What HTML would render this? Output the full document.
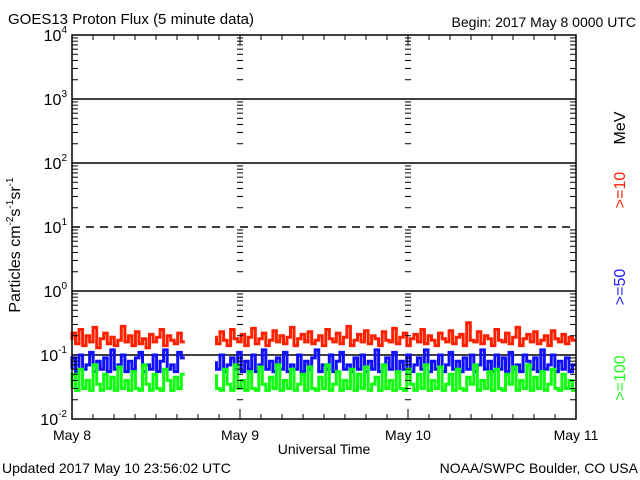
<!DOCTYPE html>
<html><head><meta charset="utf-8"><style>
html,body{margin:0;padding:0;background:#fff;}
svg{display:block;font-family:"Liberation Sans",sans-serif;}
</style></head><body>
<svg id="chart" width="640" height="480" viewBox="0 0 640 480">
<text x="8" y="24" font-size="15">GOES13 Proton Flux (5 minute data)</text>
<text x="636" y="27" font-size="14" text-anchor="end">Begin: 2017 May 8 0000 UTC</text>
<text x="2" y="473" font-size="14">Updated 2017 May 10 23:56:02 UTC</text>
<text x="638" y="473" font-size="14" text-anchor="end">NOAA/SWPC Boulder, CO USA</text>
<text x="324" y="454" font-size="14" text-anchor="middle">Universal Time</text>
<text transform="translate(20,245) rotate(-90)" font-size="16" text-anchor="middle">Particles cm<tspan font-size="10" dy="-7">-2</tspan><tspan dy="7">s</tspan><tspan font-size="10" dy="-7">-1</tspan><tspan dy="7">sr</tspan><tspan font-size="10" dy="-7">-1</tspan></text>
<text transform="translate(625,128) rotate(-90)" font-size="16" text-anchor="middle">MeV</text>
<text transform="translate(625,190) rotate(-90)" font-size="16" text-anchor="middle" fill="#ff2000">&gt;=10</text>
<text transform="translate(625,287) rotate(-90)" font-size="16" text-anchor="middle" fill="#2020ff">&gt;=50</text>
<text transform="translate(625,378) rotate(-90)" font-size="16" text-anchor="middle" fill="#20ff20">&gt;=100</text>
<g id="grid"></g><g id="series"></g><g id="axes"></g>
</svg>
<script>
const dayLabels = ["May 8","May 9","May 10","May 11"];
const decadeExps = [-2,-1,0,1,2,3,4];
const levelLines = [1000,100,1,0.1];
const dashedLevels = [10];
const red = [.17,.22,.15,.25,.14,.2,.16,.27,.13,.18,.22,.15,.19,.14,.17,.28,.16,.2,.14,.23,.15,.18,.13,.21,.16,.19,.25,.14,.2,.17,.15,.22,.16,
null,null,null,null,null,null,null,null,
.2,.15,.23,.17,.14,.25,.18,.16,.21,.14,.19,.26,.15,.18,.22,.14,.17,.24,.16,.2,.15,.19,.27,.14,.18,.21,.16,.23,.15,.17,.2,.14,.25,.18,.16,.22,.15,.19,.28,.14,.17,.21,.16,.24,.15,.2,.18,.14,.23,.17,.16,.26,.15,.19,.22,.14,.18,.21,.16,.25,.15,.2,.17,.14,.22,.18,.16,.24,.15,.19,.21,.14,.32,.17,.16,.23,.15,.2,.18,.14,.25,.17,.16,.22,.15,.19,.27,.14,.18,.21,.16,.23,.15,.17,.2,.14,.24,.18,.16,.21,.15,.19,.17];
const blue = [.06,.09,.055,.1,.06,.07,.11,.055,.08,.06,.09,.055,.12,.06,.07,.1,.055,.08,.06,.09,.11,.055,.07,.06,.1,.055,.08,.12,.06,.07,.055,.11,.09,
null,null,null,null,null,null,null,null,
.08,.06,.1,.055,.07,.09,.06,.11,.055,.08,.06,.1,.055,.07,.12,.06,.08,.055,.09,.06,.11,.055,.07,.06,.1,.055,.08,.06,.09,.12,.055,.07,.06,.1,.055,.08,.11,.06,.07,.055,.09,.06,.1,.055,.08,.06,.12,.055,.07,.09,.06,.11,.055,.08,.06,.1,.055,.07,.09,.06,.12,.055,.08,.06,.1,.055,.07,.11,.06,.08,.055,.09,.06,.1,.055,.07,.12,.06,.08,.055,.1,.06,.09,.055,.11,.06,.07,.055,.1,.08,.06,.09,.055,.12,.06,.07,.1,.055,.08,.06,.09,.055,.07];
const green = [.03,.05,.028,.06,.03,.04,.028,.07,.035,.028,.05,.03,.045,.028,.065,.03,.04,.028,.055,.03,.028,.07,.035,.028,.05,.03,.028,.06,.04,.028,.045,.03,.05,
null,null,null,null,null,null,null,null,
.05,.03,.028,.06,.035,.028,.07,.03,.04,.028,.055,.03,.028,.065,.035,.028,.045,.03,.07,.028,.04,.03,.06,.028,.035,.05,.028,.065,.03,.028,.045,.03,.07,.028,.035,.055,.028,.04,.03,.06,.028,.05,.03,.065,.028,.035,.045,.028,.07,.03,.04,.028,.055,.03,.028,.06,.035,.028,.05,.03,.07,.028,.04,.03,.065,.028,.035,.05,.028,.06,.03,.028,.045,.035,.07,.028,.04,.03,.055,.028,.06,.03,.028,.05,.035,.065,.028,.04,.03,.07,.028,.045,.03,.055,.028,.035,.06,.03,.028,.05,.03,.04,.028];

const X0=72,X1=576,YT=35,YB=419;
const NS="http://www.w3.org/2000/svg";
const yScale=v=>YB-(Math.log10(v)+2)*(YB-YT)/6;
const xScale=h=>X0+h/72*(X1-X0);
function mk(tag,attrs,parent){const e=document.createElementNS(NS,tag);for(const k in attrs)e.setAttribute(k,attrs[k]);parent.appendChild(e);return e;}
const grid=document.getElementById('grid'),axes=document.getElementById('axes'),ser=document.getElementById('series');

levelLines.forEach(v=>{const l=mk('line',{x1:X0,x2:X1,y1:yScale(v),y2:yScale(v),stroke:'#000','stroke-width':1.5},grid);

});
dashedLevels.forEach(v=>{const l=mk('line',{x1:X0,x2:X1,y1:yScale(v),y2:yScale(v),stroke:'#000','stroke-width':1.5,'stroke-dasharray':'8,6'},grid);

});

function drawSeries(vals,color,name){
  const n=vals.length;let d='';let pen=false;
  vals.forEach((v,i)=>{
    if(v===null){pen=false;return;}
    const x=xScale(i/(n-1)*72),y=yScale(v);
    if(!pen){d+='M'+x.toFixed(1)+' '+y.toFixed(1);pen=true;}
    else d+='V'+y.toFixed(1)+'H'+x.toFixed(1);
  });
  const p=mk('path',{d:d,fill:'none',stroke:color,'stroke-width':3},ser);
  
  
}
drawSeries(red,'#ff2000','series-ge10');
drawSeries(blue,'#1010ff','series-ge50');
drawSeries(green,'#10ff10','series-ge100');

const frame=mk('rect',{x:X0,y:YT,width:X1-X0,height:YB-YT,fill:'none',stroke:'#000','stroke-width':1.5},axes);



decadeExps.forEach(e=>{
  const y=yScale(Math.pow(10,e));
  const t=mk('text',{x:X0-5,y:y+6,'font-size':16,'text-anchor':'end'},axes);
  t.innerHTML='10<tspan font-size="10" dy="-8">'+e+'</tspan>';
  
  
  if(e<4){for(let m=2;m<=9;m++){
    const yy=yScale(m*Math.pow(10,e));
    [X0,X1-6].forEach(xx=>mk('line',{x1:xx,x2:xx+6,y1:yy,y2:yy,stroke:'#000'},axes));
    [240,408].forEach(xx=>mk('line',{x1:xx-3,x2:xx+3,y1:yy,y2:yy,stroke:'#000'},axes));
  }}
});
for(let h=0;h<=72;h+=3){
  const x=xScale(h);
  mk('line',{x1:x,x2:x,y1:YB,y2:YB-(h%24?5:10),stroke:'#000'},axes);
  mk('line',{x1:x,x2:x,y1:YT,y2:YT+(h%24?5:10),stroke:'#000'},axes);
}
dayLabels.forEach((s,i)=>{
  const t=mk('text',{x:xScale(i*24),y:440,'font-size':14,'text-anchor':'middle'},axes);
  t.textContent=s;
  
  
});
</script>
</body></html>
